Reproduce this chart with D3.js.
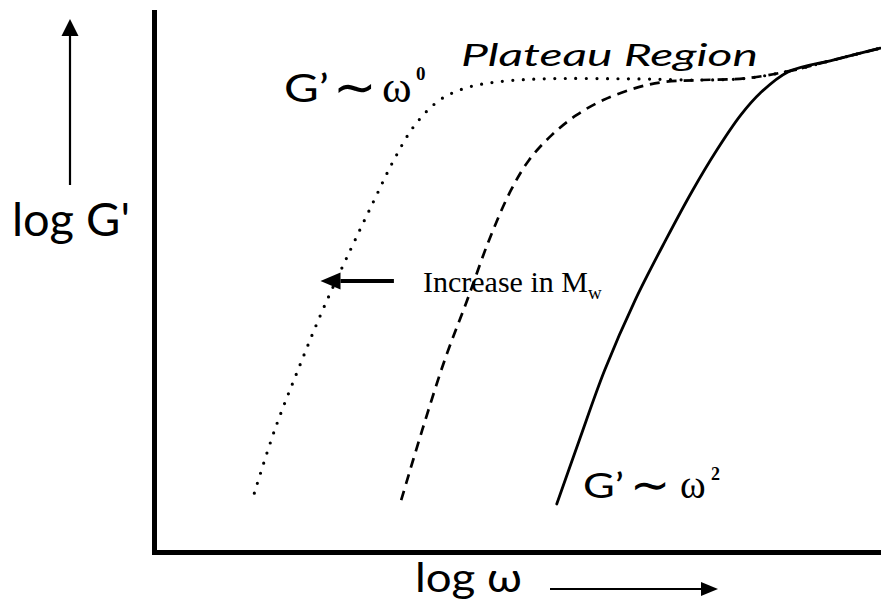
<!DOCTYPE html>
<html>
<head>
<meta charset="utf-8">
<script src="https://cdn.jsdelivr.net/npm/d3@7"></script>
<style>
  html, body { margin: 0; padding: 0; background: #fff; }
  svg { display: block; }
</style>
</head>
<body>
<svg id="chart" width="881" height="607"></svg>
<script>
// Schematic storage modulus curves, log G' against log ω (arbitrary units).
// Low molecular weight is the solid curve; higher Mw shifts the terminal zone left.
const highMwLogW = [1.38, 1.66, 1.98, 2.32, 2.70, 3.03, 3.30, 3.59, 3.93, 4.28, 4.69, 5.31, 6.69, 7.51, 8.13, 8.75, 9.34, 9.99];
const highMwLogG = [1.09, 2.26, 3.37, 4.48, 5.59, 6.52, 7.26, 7.91, 8.37, 8.59, 8.70, 8.76, 8.76, 8.74, 8.77, 8.91, 9.11, 9.33];

const midMwLogW = [3.40, 3.69, 4.00, 4.31, 4.61, 4.91, 5.16, 5.47, 5.81, 6.18, 6.62, 6.99, 7.51, 8.13, 8.75, 9.34, 9.99];
const midMwLogG = [0.96, 2.26, 3.56, 4.67, 5.78, 6.70, 7.26, 7.72, 8.09, 8.37, 8.59, 8.70, 8.74, 8.77, 8.91, 9.11, 9.33];

const lowMwLogW = [5.54, 5.85, 6.20, 6.62, 7.04, 7.41, 7.74, 8.07, 8.34, 8.72, 9.34, 9.99];
const lowMwLogG = [0.89, 2.07, 3.37, 4.67, 5.78, 6.70, 7.44, 8.09, 8.50, 8.89, 9.11, 9.33];

const logWDomain = [0, 10];
const logGDomain = [0, 10];

// "Increase in Mw" arrow, in data units (tail → head)
const mwArrowLogW = [3.30, 2.29];
const mwArrowLogG = [5.02, 5.02];

const svg = d3.select('#chart');
const W = 881, H = 607;
svg.append('rect').attr('width', W).attr('height', H).attr('fill', '#fff');

const x = d3.scaleLinear().domain(logWDomain).range([154, 881]);
const y = d3.scaleLinear().domain(logGDomain).range([552, 12]);

// Frame: bare axes without ticks, drawn heavy
const xAxisG = svg.append('g').attr('transform', `translate(0,${y(0)})`)
  .call(d3.axisBottom(x).tickValues([]).tickSizeOuter(0));
const yAxisG = svg.append('g').attr('transform', `translate(${x(0)},0)`)
  .call(d3.axisLeft(y).tickValues([]).tickSizeOuter(0));
[xAxisG, yAxisG].forEach(g => g.select('.domain')
  .attr('stroke', '#000').attr('stroke-width', 5).attr('stroke-linecap', 'square'));

// Curves
const zip = (xs, ys) => xs.map((v, i) => [v, ys[i]]);
const line = d3.line().x(d => x(d[0])).y(d => y(d[1])).curve(d3.curveCatmullRom.alpha(0.5));

const series = [
  { pts: zip(highMwLogW, highMwLogG), dash: '0 10.5', width: 3.2, cap: 'round' },
  { pts: zip(midMwLogW, midMwLogG), dash: '10 7', width: 2.7, cap: 'butt' },
  { pts: zip(lowMwLogW, lowMwLogG), dash: null, width: 2.8, cap: 'round' }
];
svg.append('g').selectAll('path').data(series).join('path')
  .attr('d', d => line(d.pts))
  .attr('fill', 'none')
  .attr('stroke', '#000')
  .attr('stroke-width', d => d.width)
  .attr('stroke-linecap', d => d.cap)
  .attr('stroke-dasharray', d => d.dash);

// Arrow helper: shaft plus filled triangular head
function arrow(x1, y1, x2, y2, shaftW, headLen, headHalf) {
  const ang = Math.atan2(y2 - y1, x2 - x1);
  const bx = x2 - headLen * Math.cos(ang), by = y2 - headLen * Math.sin(ang);
  const nx = -Math.sin(ang), ny = Math.cos(ang);
  const g = svg.append('g');
  g.append('line').attr('x1', x1).attr('y1', y1).attr('x2', bx).attr('y2', by)
    .attr('stroke', '#000').attr('stroke-width', shaftW);
  g.append('path')
    .attr('d', `M${x2},${y2}L${bx + nx * headHalf},${by + ny * headHalf}L${bx - nx * headHalf},${by - ny * headHalf}Z`)
    .attr('fill', '#000');
}

arrow(x(mwArrowLogW[0]), y(mwArrowLogG[0]), x(mwArrowLogW[1]), y(mwArrowLogG[1]), 4, 20, 8.5);
arrow(70, 185, 70, 19, 2.2, 17, 8.5);     // y-axis direction
arrow(550, 589, 718, 589, 2.2, 17, 7);    // x-axis direction

// Text
const SANS = "Lato, 'DejaVu Sans', sans-serif";
const SERIF = "'Liberation Serif', 'DejaVu Serif', serif";
const MATH = "'DejaVu Sans', sans-serif";

function label(pieces) {
  pieces.forEach(p => {
    const t = svg.append('text')
      .attr('x', p.x).attr('y', p.y)
      .attr('font-family', p.family || SANS)
      .attr('font-size', p.size)
      .attr('font-style', p.italic ? 'italic' : 'normal')
      .attr('font-weight', p.bold ? 'bold' : 'normal')
      .attr('fill', '#000')
      .text(p.text);
    if (p.len) t.attr('textLength', p.len).attr('lengthAdjust', 'spacingAndGlyphs');
  });
}

label([{ text: "log G'", x: 12, y: 236, size: 46, len: 118 }]);
label([{ text: 'log ω', x: 415, y: 592, size: 40, len: 107 }]);

label([
  { text: 'G’', x: 284, y: 102, size: 38, len: 45 },
  { text: '∼', x: 333, y: 105, size: 52, family: MATH },
  { text: 'ω', x: 382, y: 102, size: 45, family: SERIF },
  { text: '0', x: 416, y: 80, size: 19, family: SERIF, bold: true }
]);

label([
  { text: 'G’', x: 583, y: 498, size: 35, len: 41 },
  { text: '∼', x: 630, y: 501, size: 48, family: MATH },
  { text: 'ω', x: 680, y: 498, size: 39, family: SERIF },
  { text: '2', x: 711, y: 480, size: 18, family: SERIF, bold: true }
]);

label([{ text: 'Plateau Region', x: 461, y: 66, size: 30, italic: true, len: 297 }]);

const mw = svg.append('text').attr('x', 423).attr('y', 292)
  .attr('font-family', SERIF).attr('font-size', 30).attr('fill', '#000');
mw.append('tspan').text('Increase in M');
mw.append('tspan').attr('dy', 7).attr('font-size', 19).text('w');
</script>
</body>
</html>
